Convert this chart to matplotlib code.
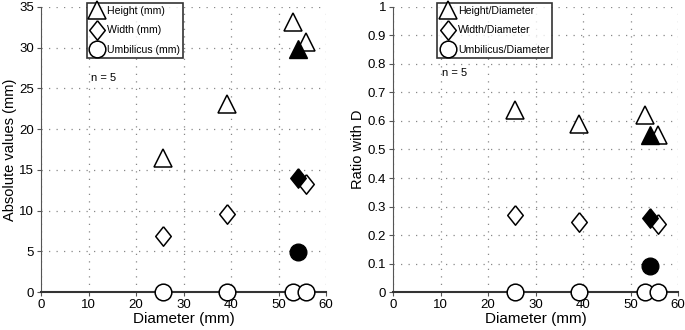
import matplotlib
matplotlib.use("Agg")
from matplotlib import pyplot as plt
from matplotlib.lines import Line2D

plt.rcParams["font.family"] = ["Liberation Sans", "DejaVu Sans"]

# Open symbols: specimens; the filled symbol is a separate specimen
height_x = [25.7, 39.1, 53.1, 55.8]
height_open = [16.4, 23.1, 33.1, 30.7]
width_x = [25.7, 39.1, 55.8]
width_open = [6.9, 9.6, 13.3]
umbilicus_x = [25.7, 39.1, 53.1, 55.8]
umbilicus_open = [0.0, 0.0, 0.0, 0.0]

diameter_filled = [54.1]
height_filled = [29.8]
width_filled = [14.0]
umbilicus_filled = [4.9]

# Ratios with diameter
height_ratio_open = [0.64, 0.59, 0.62, 0.55]
width_ratio_open = [0.27, 0.245, 0.24]
umbilicus_ratio_open = [0.0, 0.0, 0.0, 0.0]
height_ratio_filled = [0.55]
width_ratio_filled = [0.26]
umbilicus_ratio_filled = [0.09]

fig = plt.figure(figsize=(6.85, 3.3), dpi=100)
ax1 = fig.add_axes([0.06, 0.115, 0.416, 0.864])
ax2 = fig.add_axes([0.574, 0.115, 0.416, 0.864])

diamond = [(0, 1), (0.8, 0), (0, -1), (-0.8, 0), (0, 1)]
markers = ["^", diamond, "o"]
sizes = [13, 14, 12]
xs = [height_x, width_x, umbilicus_x]


def draw_panel(ax, open_series, filled_series, labels, ymax, yticks, ylabel,
               leg_x, n_xy):
    for x, ys, m, s in zip(xs, open_series, markers, sizes):
        ax.plot(x, ys, linestyle="none", marker=m, markersize=s,
                markerfacecolor="white", markeredgecolor="black",
                markeredgewidth=1.1, clip_on=False, zorder=3)
    for ys, m, s in zip(filled_series, markers, sizes):
        ax.plot(diameter_filled, ys, linestyle="none", marker=m, markersize=s,
                color="black", clip_on=False, zorder=4)
    ax.set_xlim(0, 60)
    ax.set_ylim(0, ymax)
    ax.set_xticks(range(0, 61, 10))
    ax.set_yticks(yticks)
    ax.grid(True, linestyle=(0, (1, 5)), color="#888888", linewidth=0.9)
    ax.set_axisbelow(True)
    for side in ["top", "right"]:
        ax.spines[side].set_visible(False)
    ax.spines["bottom"].set_linewidth(1.5)
    ax.spines["bottom"].set_color("#333333")
    ax.spines["left"].set_linewidth(0.8)
    ax.spines["left"].set_color("#555555")
    ax.tick_params(labelsize=9.5, length=3, pad=2, color="#555555")
    ax.set_xlabel("Diameter (mm)", fontsize=11, labelpad=1)
    ax.set_ylabel(ylabel, fontsize=10.5, labelpad=2)

    handles = [Line2D([], [], linestyle="none", marker=m, markersize=s,
                      markerfacecolor="white", markeredgecolor="black",
                      markeredgewidth=1.1)
               for m, s in zip(markers, sizes)]
    leg = ax.legend(handles, labels, loc="upper left",
                    bbox_to_anchor=(leg_x, 1.015), fontsize=7.6, frameon=True,
                    fancybox=False, handletextpad=0.25, handlelength=1.4,
                    borderpad=0.3, labelspacing=0.9, borderaxespad=0)
    leg.get_frame().set_edgecolor("black")
    leg.get_frame().set_linewidth(1.2)
    ax.text(n_xy[0], n_xy[1], "n = 5", transform=ax.transAxes, fontsize=8,
            va="center")


draw_panel(ax1, [height_open, width_open, umbilicus_open],
           [height_filled, width_filled, umbilicus_filled],
           ["Height (mm)", "Width (mm)", "Umbilicus (mm)"],
           35, range(0, 36, 5), "Absolute values (mm)", 0.16, (0.175, 0.75))
draw_panel(ax2, [height_ratio_open, width_ratio_open, umbilicus_ratio_open],
           [height_ratio_filled, width_ratio_filled, umbilicus_ratio_filled],
           ["Height/Diameter", "Width/Diameter", "Umbilicus/Diameter"],
           1, [i / 10 for i in range(11)], "Ratio with D", 0.155, (0.17, 0.77))
ax2.set_yticklabels(["0"] + [f"{i / 10:.1f}" for i in range(1, 10)] + ["1"])

fig.savefig("out.png", dpi=100)
